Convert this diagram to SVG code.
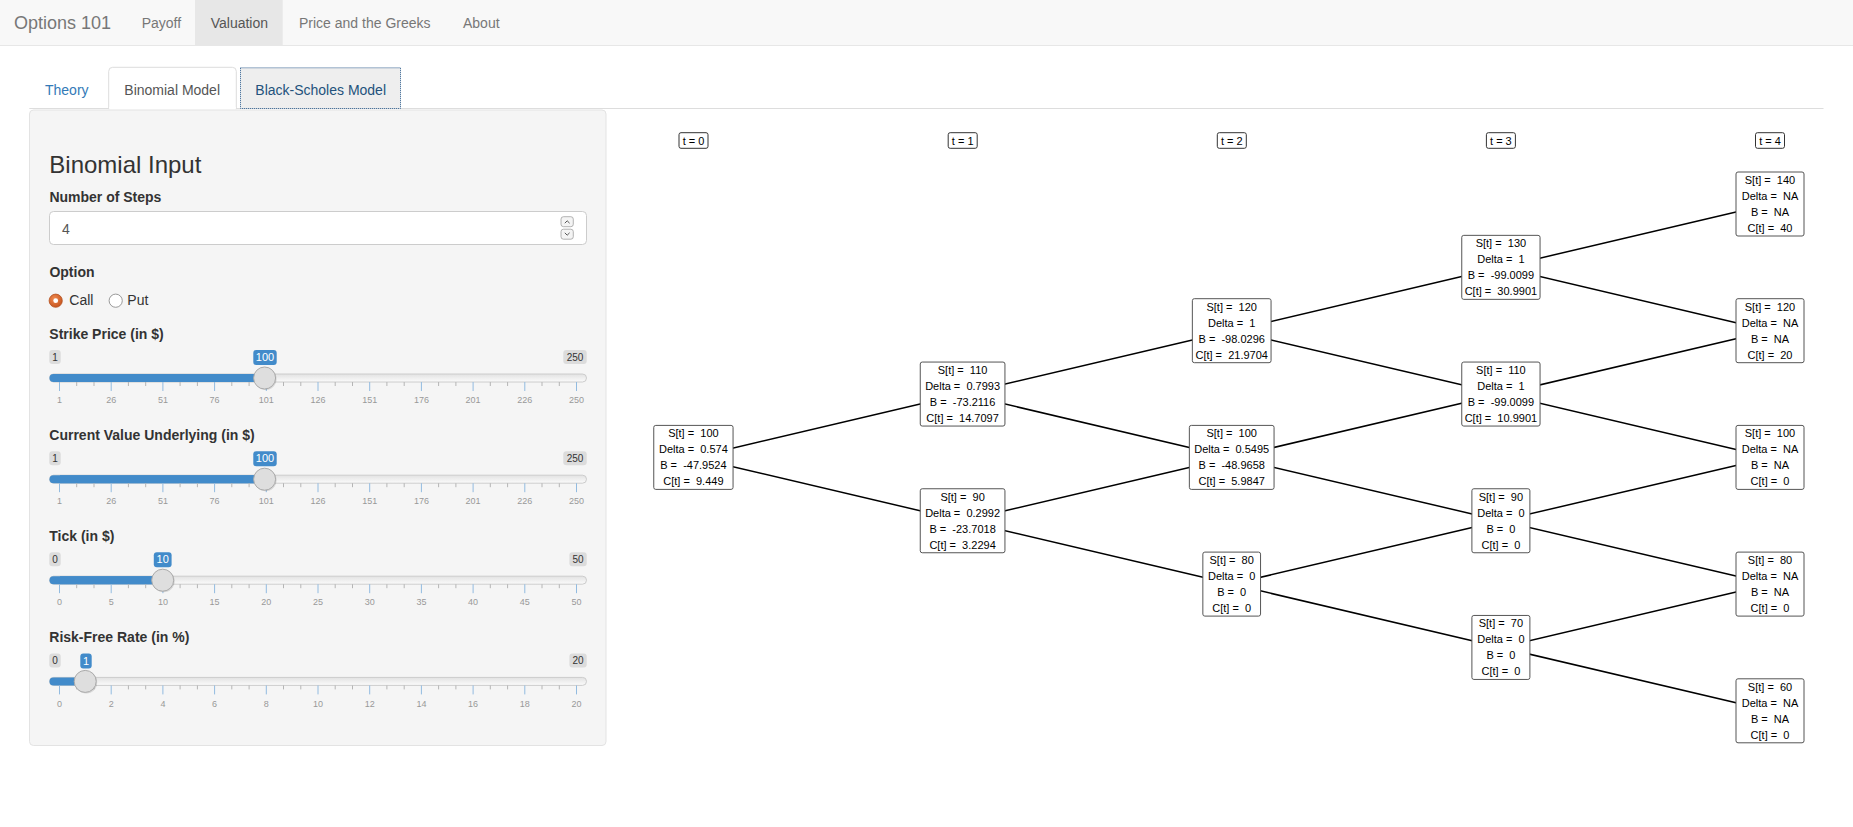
<svg xmlns="http://www.w3.org/2000/svg" xmlns:xlink="http://www.w3.org/1999/xlink" width="1853" height="827" viewBox="0 0 1853 827">
<style>
text{font-family:"Liberation Sans",Arial,sans-serif;}
.nav{font-size:14px;fill:#777;}
.tab{font-size:14px;}
.lbl{font-size:14px;font-weight:bold;fill:#333;}
.node rect{fill:#fff;stroke:#555;stroke-width:1;}
.node text{font-size:11px;fill:#000;text-anchor:middle;white-space:pre;}
.tl rect{fill:#fff;stroke:#333;stroke-width:1;}
.tl text{font-size:11px;fill:#000;text-anchor:middle;white-space:pre;}
.edges line{stroke:#000;stroke-width:1.5;}
.mm rect{fill:#dcdcdc;}
.mm text{font-size:10px;fill:#333;text-anchor:middle;}
.val rect{fill:#428bca;}
.val text{font-size:11px;fill:#fff;text-anchor:middle;}
.grid text{font-size:9px;fill:#999;text-anchor:middle;}
</style>
<defs>
<linearGradient id="lineg" x1="0" y1="0" x2="0" y2="1"><stop offset="0" stop-color="#e2e2e2"/><stop offset="1" stop-color="#fbfbfb"/></linearGradient>
<radialGradient id="radg" cx="0.4" cy="0.35" r="0.7"><stop offset="0" stop-color="#f08a50"/><stop offset="1" stop-color="#c4521c"/></radialGradient>
<g id="ticks">
<path d="M59.5 382v9M111.2 382v9M162.9 382v9M214.6 382v9M266.3 382v9M318 382v9M369.7 382v9M421.4 382v9M473.1 382v9M524.8 382v9M576.5 382v9" stroke="#92bbe0" stroke-width="1"/>
<path d="M76.7 382v4M94 382v4M128.4 382v4M145.7 382v4M180.1 382v4M197.4 382v4M231.8 382v4M249.1 382v4M283.5 382v4M300.8 382v4M335.2 382v4M352.5 382v4M386.9 382v4M404.2 382v4M438.6 382v4M455.9 382v4M490.3 382v4M507.6 382v4M542 382v4M559.3 382v4" stroke="#b5b5b5" stroke-width="1"/>
</g>
<g id="track">
<rect x="49.5" y="374" width="537" height="8" rx="4" fill="url(#lineg)" stroke="#ccc" stroke-width="1"/>
</g>
</defs>

<!-- page -->
<rect x="0" y="0" width="1853" height="827" fill="#fff"/>

<!-- navbar -->
<g id="navbar">
<rect x="0" y="0" width="1853" height="46" fill="#f8f8f8"/>
<rect x="195" y="0" width="87.7" height="46" fill="#e7e7e7"/>
<line x1="0" y1="45.5" x2="1853" y2="45.5" stroke="#e7e7e7"/>
<text x="14" y="29" font-size="18" fill="#777">Options 101</text>
<text class="nav" x="141.7" y="28">Payoff</text>
<text class="nav" x="210.7" y="28" fill="#555" style="fill:#555">Valuation</text>
<text class="nav" x="299" y="28">Price and the Greeks</text>
<text class="nav" x="463" y="28">About</text>
</g>

<!-- tabs -->
<g id="tabs">
<line x1="29.3" y1="108.5" x2="1823.5" y2="108.5" stroke="#ddd"/>
<text class="tab" x="45" y="94.5" fill="#337ab7">Theory</text>
<path d="M108.7 109V71.3a4 4 0 0 1 4-4H232.3a4 4 0 0 1 4 4V109Z" fill="#fff" stroke="#ddd"/>
<rect x="109.2" y="107" width="126.6" height="3" fill="#fff"/>
<text class="tab" x="124.3" y="94.5" fill="#555">Binomial Model</text>
<rect x="240.5" y="67.8" width="160" height="40.7" fill="#eee" stroke="#2a5b8c" stroke-width="1" stroke-dasharray="1 1"/>
<text class="tab" x="255.3" y="94.5" fill="#23527c">Black-Scholes Model</text>
</g>

<!-- sidebar -->
<g id="sidebar">
<rect x="29.5" y="110" width="576.5" height="635.5" rx="4" fill="#f5f5f5" stroke="#e3e3e3"/>
<text x="49.3" y="172.5" font-size="24" fill="#333">Binomial Input</text>
<text class="lbl" x="49.4" y="201.5">Number of Steps</text>
<rect x="49.5" y="211.5" width="537" height="33" rx="4" fill="#fff" stroke="#ccc"/>
<text x="62" y="234" font-size="14" fill="#555">4</text>
<rect x="561" y="216.7" width="12.3" height="10" rx="2.5" fill="#f4f4f4" stroke="#a0a0a0" stroke-width="0.8"/>
<rect x="561" y="229.2" width="12.3" height="10" rx="2.5" fill="#f4f4f4" stroke="#a0a0a0" stroke-width="0.8"/>
<path d="M564.8 223.2l2.4-2.4 2.4 2.4M564.8 232.8l2.4 2.4 2.4-2.4" fill="none" stroke="#555" stroke-width="1"/>
<text class="lbl" x="49.4" y="276.5">Option</text>
<circle cx="55.7" cy="300.7" r="6.6" fill="url(#radg)" stroke="#b4501f" stroke-width="0.8"/>
<circle cx="55.7" cy="300.7" r="2.4" fill="#fff"/>
<text x="69.3" y="304.8" font-size="14" fill="#333">Call</text>
<circle cx="115.7" cy="300.7" r="6.6" fill="#fff" stroke="#9a9a9a" stroke-width="1"/>
<text x="127.3" y="304.8" font-size="14" fill="#333">Put</text>
</g>

<!-- slider: strike -->
<g id="slider-strike">
<text class="lbl" x="49.3" y="338.5">Strike Price (in $)</text>
<g class="mm"><rect x="49.3" y="350" width="11.4" height="14" rx="3"/><text x="55" y="360.5">1</text>
<rect x="563.3" y="350" width="23.4" height="14" rx="3"/><text x="575" y="360.5">250</text></g>
<use xlink:href="#track"/>
<rect x="49.5" y="374" width="216" height="8" rx="4" fill="#428bca"/>
<rect x="60" y="374" width="205.5" height="8" fill="#428bca"/>
<use xlink:href="#ticks"/>
<circle cx="265.6" cy="379" r="11" fill="#000" opacity="0.12"/>
<circle cx="264.6" cy="378" r="11" fill="#dedede" stroke="#aaa"/>
<g class="val"><rect x="253.3" y="350" width="23.4" height="15" rx="3"/><text x="265" y="361.3">100</text></g>
<g class="grid"><text x="59.5" y="403.3">1</text><text x="111.2" y="403.3">26</text><text x="162.9" y="403.3">51</text><text x="214.6" y="403.3">76</text><text x="266.3" y="403.3">101</text><text x="318" y="403.3">126</text><text x="369.7" y="403.3">151</text><text x="421.4" y="403.3">176</text><text x="473.1" y="403.3">201</text><text x="524.8" y="403.3">226</text><text x="576.5" y="403.3">250</text></g>
</g>

<!-- slider: current value -->
<g id="slider-underlying" transform="translate(0,101.2)">
<text class="lbl" x="49.3" y="338.5">Current Value Underlying (in $)</text>
<g class="mm"><rect x="49.3" y="350" width="11.4" height="14" rx="3"/><text x="55" y="360.5">1</text>
<rect x="563.3" y="350" width="23.4" height="14" rx="3"/><text x="575" y="360.5">250</text></g>
<use xlink:href="#track"/>
<rect x="49.5" y="374" width="216" height="8" rx="4" fill="#428bca"/>
<rect x="60" y="374" width="205.5" height="8" fill="#428bca"/>
<use xlink:href="#ticks"/>
<circle cx="265.6" cy="379" r="11" fill="#000" opacity="0.12"/>
<circle cx="264.6" cy="378" r="11" fill="#dedede" stroke="#aaa"/>
<g class="val"><rect x="253.3" y="350" width="23.4" height="15" rx="3"/><text x="265" y="361.3">100</text></g>
<g class="grid"><text x="59.5" y="403.3">1</text><text x="111.2" y="403.3">26</text><text x="162.9" y="403.3">51</text><text x="214.6" y="403.3">76</text><text x="266.3" y="403.3">101</text><text x="318" y="403.3">126</text><text x="369.7" y="403.3">151</text><text x="421.4" y="403.3">176</text><text x="473.1" y="403.3">201</text><text x="524.8" y="403.3">226</text><text x="576.5" y="403.3">250</text></g>
</g>

<!-- slider: tick -->
<g id="slider-tick" transform="translate(0,202.2)">
<text class="lbl" x="49.3" y="338.5">Tick (in $)</text>
<g class="mm"><rect x="49.3" y="350" width="11.4" height="14" rx="3"/><text x="55" y="360.5">0</text>
<rect x="569.4" y="350" width="17.3" height="14" rx="3"/><text x="578" y="360.5">50</text></g>
<use xlink:href="#track"/>
<rect x="49.5" y="374" width="114" height="8" rx="4" fill="#428bca"/>
<rect x="60" y="374" width="103" height="8" fill="#428bca"/>
<use xlink:href="#ticks"/>
<circle cx="163.7" cy="379" r="11" fill="#000" opacity="0.12"/>
<circle cx="162.7" cy="378" r="11" fill="#dedede" stroke="#aaa"/>
<g class="val"><rect x="153.8" y="350" width="17.8" height="15" rx="3"/><text x="162.7" y="361.3">10</text></g>
<g class="grid"><text x="59.5" y="403.3">0</text><text x="111.2" y="403.3">5</text><text x="162.9" y="403.3">10</text><text x="214.6" y="403.3">15</text><text x="266.3" y="403.3">20</text><text x="318" y="403.3">25</text><text x="369.7" y="403.3">30</text><text x="421.4" y="403.3">35</text><text x="473.1" y="403.3">40</text><text x="524.8" y="403.3">45</text><text x="576.5" y="403.3">50</text></g>
</g>

<!-- slider: risk-free -->
<g id="slider-rate" transform="translate(0,303.4)">
<text class="lbl" x="49.3" y="338.5">Risk-Free Rate (in %)</text>
<g class="mm"><rect x="49.3" y="350" width="11.4" height="14" rx="3"/><text x="55" y="360.5">0</text>
<rect x="569.4" y="350" width="17.3" height="14" rx="3"/><text x="578" y="360.5">20</text></g>
<use xlink:href="#track"/>
<rect x="49.5" y="374" width="37" height="8" rx="4" fill="#428bca"/>
<use xlink:href="#ticks"/>
<circle cx="86.2" cy="379" r="11" fill="#000" opacity="0.12"/>
<circle cx="85.2" cy="378" r="11" fill="#dedede" stroke="#aaa"/>
<g class="val"><rect x="80.3" y="350" width="11.4" height="15" rx="3"/><text x="86" y="361.3">1</text></g>
<g class="grid"><text x="59.5" y="403.3">0</text><text x="111.2" y="403.3">2</text><text x="162.9" y="403.3">4</text><text x="214.6" y="403.3">6</text><text x="266.3" y="403.3">8</text><text x="318" y="403.3">10</text><text x="369.7" y="403.3">12</text><text x="421.4" y="403.3">14</text><text x="473.1" y="403.3">16</text><text x="524.8" y="403.3">18</text><text x="576.5" y="403.3">20</text></g>
</g>

<!-- time labels -->
<g id="time-labels">
<g class="tl" id="t0"><rect x="679" y="132.7" width="29" height="15.6" rx="2"/><text x="693.5" y="144.5">t = 0</text></g>
<g class="tl" id="t1"><rect x="948.2" y="132.7" width="29" height="15.6" rx="2"/><text x="962.7" y="144.5">t = 1</text></g>
<g class="tl" id="t2"><rect x="1217.3" y="132.7" width="29" height="15.6" rx="2"/><text x="1231.8" y="144.5">t = 2</text></g>
<g class="tl" id="t3"><rect x="1486.4" y="132.7" width="29" height="15.6" rx="2"/><text x="1500.9" y="144.5">t = 3</text></g>
<g class="tl" id="t4"><rect x="1755.5" y="132.7" width="29" height="15.6" rx="2"/><text x="1770" y="144.5">t = 4</text></g>
</g>

<!-- connectors -->
<g class="edges" id="connectors">
<line x1="693.4" y1="457.4" x2="962.6" y2="394.05"/>
<line x1="693.4" y1="457.4" x2="962.6" y2="520.75"/>
<line x1="962.6" y1="394.05" x2="1231.7" y2="330.7"/>
<line x1="962.6" y1="394.05" x2="1231.7" y2="457.4"/>
<line x1="962.6" y1="520.75" x2="1231.7" y2="457.4"/>
<line x1="962.6" y1="520.75" x2="1231.7" y2="584.1"/>
<line x1="1231.7" y1="330.7" x2="1500.9" y2="267.35"/>
<line x1="1231.7" y1="330.7" x2="1500.9" y2="394.05"/>
<line x1="1231.7" y1="457.4" x2="1500.9" y2="394.05"/>
<line x1="1231.7" y1="457.4" x2="1500.9" y2="520.75"/>
<line x1="1231.7" y1="584.1" x2="1500.9" y2="520.75"/>
<line x1="1231.7" y1="584.1" x2="1500.9" y2="647.45"/>
<line x1="1500.9" y1="267.35" x2="1770" y2="204"/>
<line x1="1500.9" y1="267.35" x2="1770" y2="330.7"/>
<line x1="1500.9" y1="394.05" x2="1770" y2="330.7"/>
<line x1="1500.9" y1="394.05" x2="1770" y2="457.4"/>
<line x1="1500.9" y1="520.75" x2="1770" y2="457.4"/>
<line x1="1500.9" y1="520.75" x2="1770" y2="584.1"/>
<line x1="1500.9" y1="647.45" x2="1770" y2="584.1"/>
<line x1="1500.9" y1="647.45" x2="1770" y2="710.8"/>
</g>

<!-- nodes -->
<g class="node" id="n0"><rect x="653.75" y="425.4" width="79.3" height="64" rx="2"/><text x="693.4" y="437.4">S[t] =  100</text><text x="693.4" y="453.4">Delta =  0.574</text><text x="693.4" y="469.4">B =  -47.9524</text><text x="693.4" y="485.4">C[t] =  9.449</text></g>

<g class="node" id="n1u"><rect x="920.25" y="362.05" width="84.7" height="64" rx="2"/><text x="962.6" y="374.05">S[t] =  110</text><text x="962.6" y="390.05">Delta =  0.7993</text><text x="962.6" y="406.05">B =  -73.2116</text><text x="962.6" y="422.05">C[t] =  14.7097</text></g>
<g class="node" id="n1d"><rect x="920.25" y="488.75" width="84.7" height="64" rx="2"/><text x="962.6" y="500.75">S[t] =  90</text><text x="962.6" y="516.75">Delta =  0.2992</text><text x="962.6" y="532.75">B =  -23.7018</text><text x="962.6" y="548.75">C[t] =  3.2294</text></g>

<g class="node" id="n2a"><rect x="1192.35" y="298.7" width="78.7" height="64" rx="2"/><text x="1231.7" y="310.7">S[t] =  120</text><text x="1231.7" y="326.7">Delta =  1</text><text x="1231.7" y="342.7">B =  -98.0296</text><text x="1231.7" y="358.7">C[t] =  21.9704</text></g>
<g class="node" id="n2b"><rect x="1189.35" y="425.4" width="84.7" height="64" rx="2"/><text x="1231.7" y="437.4">S[t] =  100</text><text x="1231.7" y="453.4">Delta =  0.5495</text><text x="1231.7" y="469.4">B =  -48.9658</text><text x="1231.7" y="485.4">C[t] =  5.9847</text></g>
<g class="node" id="n2c"><rect x="1202.85" y="552.1" width="57.7" height="64" rx="2"/><text x="1231.7" y="564.1">S[t] =  80</text><text x="1231.7" y="580.1">Delta =  0</text><text x="1231.7" y="596.1">B =  0</text><text x="1231.7" y="612.1">C[t] =  0</text></g>

<g class="node" id="n3a"><rect x="1461.75" y="235.35" width="78.3" height="64" rx="2"/><text x="1500.9" y="247.35">S[t] =  130</text><text x="1500.9" y="263.35">Delta =  1</text><text x="1500.9" y="279.35">B =  -99.0099</text><text x="1500.9" y="295.35">C[t] =  30.9901</text></g>
<g class="node" id="n3b"><rect x="1461.75" y="362.05" width="78.3" height="64" rx="2"/><text x="1500.9" y="374.05">S[t] =  110</text><text x="1500.9" y="390.05">Delta =  1</text><text x="1500.9" y="406.05">B =  -99.0099</text><text x="1500.9" y="422.05">C[t] =  10.9901</text></g>
<g class="node" id="n3c"><rect x="1471.9" y="488.75" width="58" height="64" rx="2"/><text x="1500.9" y="500.75">S[t] =  90</text><text x="1500.9" y="516.75">Delta =  0</text><text x="1500.9" y="532.75">B =  0</text><text x="1500.9" y="548.75">C[t] =  0</text></g>
<g class="node" id="n3d"><rect x="1471.9" y="615.45" width="58" height="64" rx="2"/><text x="1500.9" y="627.45">S[t] =  70</text><text x="1500.9" y="643.45">Delta =  0</text><text x="1500.9" y="659.45">B =  0</text><text x="1500.9" y="675.45">C[t] =  0</text></g>

<g class="node" id="n4a"><rect x="1736" y="172" width="68" height="64" rx="2"/><text x="1770" y="184">S[t] =  140</text><text x="1770" y="200">Delta =  NA</text><text x="1770" y="216">B =  NA</text><text x="1770" y="232">C[t] =  40</text></g>
<g class="node" id="n4b"><rect x="1736" y="298.7" width="68" height="64" rx="2"/><text x="1770" y="310.7">S[t] =  120</text><text x="1770" y="326.7">Delta =  NA</text><text x="1770" y="342.7">B =  NA</text><text x="1770" y="358.7">C[t] =  20</text></g>
<g class="node" id="n4c"><rect x="1736" y="425.4" width="68" height="64" rx="2"/><text x="1770" y="437.4">S[t] =  100</text><text x="1770" y="453.4">Delta =  NA</text><text x="1770" y="469.4">B =  NA</text><text x="1770" y="485.4">C[t] =  0</text></g>
<g class="node" id="n4d"><rect x="1736" y="552.1" width="68" height="64" rx="2"/><text x="1770" y="564.1">S[t] =  80</text><text x="1770" y="580.1">Delta =  NA</text><text x="1770" y="596.1">B =  NA</text><text x="1770" y="612.1">C[t] =  0</text></g>
<g class="node" id="n4e"><rect x="1736" y="678.8" width="68" height="64" rx="2"/><text x="1770" y="690.8">S[t] =  60</text><text x="1770" y="706.8">Delta =  NA</text><text x="1770" y="722.8">B =  NA</text><text x="1770" y="738.8">C[t] =  0</text></g>
</svg>
